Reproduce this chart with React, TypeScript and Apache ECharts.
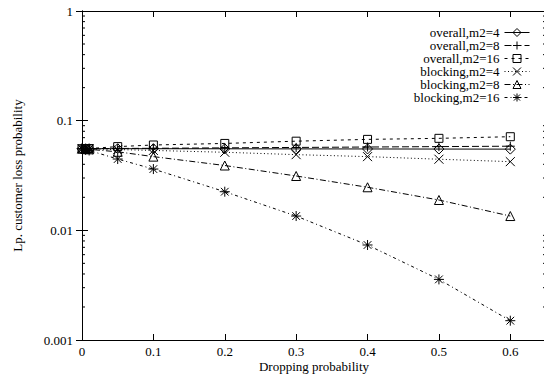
import React, { useEffect, useRef } from "react";
import * as echarts from "echarts";

const xs = [0, 0.005, 0.01, 0.05, 0.1, 0.2, 0.3, 0.4, 0.5, 0.6];
const seriesNames = [
  "overall,m2=4",
  "overall,m2=8",
  "overall,m2=16",
  "blocking,m2=4",
  "blocking,m2=8",
  "blocking,m2=16",
];
const overallM2_4 = [0.0555, 0.0555, 0.0555, 0.0555, 0.0555, 0.0554, 0.0553, 0.0552, 0.0551, 0.055];
const overallM2_8 = [0.0555, 0.0555, 0.0556, 0.0558, 0.056, 0.0565, 0.057, 0.0575, 0.058, 0.0585];
const overallM2_16 = [0.0555, 0.0556, 0.0557, 0.058, 0.06, 0.062, 0.065, 0.0675, 0.069, 0.0714];
const blockingM2_4 = [0.0555, 0.0554, 0.0553, 0.0545, 0.0535, 0.0515, 0.049, 0.047, 0.0445, 0.0423];
const blockingM2_8 = [0.0555, 0.0552, 0.0548, 0.052, 0.047, 0.039, 0.0313, 0.0247, 0.0189, 0.0135];
const blockingM2_16 = [0.0555, 0.0545, 0.0535, 0.0447, 0.0362, 0.0225, 0.0135, 0.00735, 0.00357, 0.0015];
const xMin = 0;
const xMax = 0.65;
const yMinorTicks = [
  0.002, 0.003, 0.004, 0.005, 0.006, 0.007, 0.008, 0.009,
  0.02, 0.03, 0.04, 0.05, 0.06, 0.07, 0.08, 0.09,
  0.2, 0.3, 0.4, 0.5, 0.6, 0.7, 0.8, 0.9,
];

const FONT = "'Liberation Serif', 'Times New Roman', serif";

const symbols = [
  { symbol: "path://M5,0 L10,5 L5,10 L0,5 Z", size: 10 },
  { symbol: "path://M0,5 L10,5 M5,0 L5,10", size: 9 },
  { symbol: "rect", size: 8 },
  { symbol: "path://M0,0 L10,10 M10,0 L0,10", size: 9 },
  { symbol: "triangle", size: 9 },
  { symbol: "path://M0,0 L10,10 M10,0 L0,10 M5,-1.5 L5,11.5 M-1.5,5 L11.5,5", size: 10 },
];
const dashes: any[] = [
  "solid",
  [7, 3],
  [3, 4],
  [1, 2.5],
  [6, 2.5, 1, 2.5],
  [3, 3, 1, 3],
];

export default function App() {
  const ref = useRef<HTMLDivElement>(null);
  useEffect(() => {
    if (!ref.current) return;
    const chart = echarts.init(ref.current, undefined, { renderer: "svg" });
    const values = [overallM2_4, overallM2_8, overallM2_16, blockingM2_4, blockingM2_8, blockingM2_16];
    const series: any[] = values.map((vals, i) => ({
      name: seriesNames[i],
      type: "line",
      xAxisIndex: 0,
      yAxisIndex: 0,
      data: xs.map((x, j) => [x, vals[j]]),
      symbol: symbols[i].symbol,
      symbolSize: symbols[i].size,
      showAllSymbol: true,
      clip: false,
      lineStyle: { color: "#000", width: 1, type: dashes[i] },
      itemStyle: { color: "transparent", borderColor: "#000", borderWidth: 1 },
    }));
    series.push({
      type: "custom",
      name: "minorTicks",
      xAxisIndex: 0,
      yAxisIndex: 0,
      silent: true,
      clip: false,
      data: yMinorTicks.map((v) => [xMin, v]),
      renderItem: (params: any, api: any) => {
        const v = api.value(1);
        const l = api.coord([xMin, v]);
        const r = api.coord([xMax, v]);
        const st = { stroke: "#000", lineWidth: 1 };
        return {
          type: "group",
          children: [
            { type: "line", shape: { x1: l[0], y1: l[1], x2: l[0] + 3, y2: l[1] }, style: st },
            { type: "line", shape: { x1: r[0] - 3, y1: r[1], x2: r[0], y2: r[1] }, style: st },
          ],
        };
      },
    });
    const yFmt = (v: number) => String(Number(v.toPrecision(3)));
    const baseY = {
      type: "log",
      logBase: 10,
      min: 0.001,
      max: 1,
      splitLine: { show: false },
    };
    chart.setOption({
      animation: false,
      grid: { left: 82, top: 11, bottom: 36, right: -2, containLabel: false, outerBoundsMode: "none" },
      legend: {
        orient: "vertical",
        align: "right",
        right: 14,
        top: 26,
        padding: 0,
        itemWidth: 25,
        itemHeight: 10,
        itemGap: 0,
        itemStyle: { color: "transparent", borderColor: "#000", borderWidth: 1 },
        lineStyle: { width: 1, color: "#000" },
        textStyle: { fontFamily: FONT, fontSize: 13, color: "#000", lineHeight: 12.6 },
        data: seriesNames,
      },
      xAxis: [
        {
          type: "value",
          position: "bottom",
          min: xMin,
          max: xMax,
          interval: 0.1,
          axisLine: { lineStyle: { color: "#000", width: 1 } },
          axisTick: { inside: true, length: 6, lineStyle: { color: "#000" } },
          axisLabel: {
            showMaxLabel: false,
            margin: 5,
            color: "#000",
            fontFamily: FONT,
            fontSize: 13,
            formatter: (v: number) => String(Number(v.toFixed(2))),
          },
          splitLine: { show: false },
          name: "Dropping probability",
          nameLocation: "middle",
          nameGap: 20,
          nameMoveOverlap: false,
          nameTextStyle: { fontFamily: FONT, fontSize: 13, color: "#000" },
        },
        {
          type: "value",
          position: "top",
          min: xMin,
          max: xMax,
          interval: 0.1,
          axisLine: { lineStyle: { color: "#000", width: 1 } },
          axisTick: { inside: true, length: 6, lineStyle: { color: "#000" } },
          axisLabel: { show: false },
          splitLine: { show: false },
        },
      ],
      yAxis: [
        {
          ...baseY,
          position: "left",
          axisLine: { show: true, lineStyle: { color: "#000", width: 1 } },
          axisTick: { inside: true, length: 6, lineStyle: { color: "#000" } },
          axisLabel: { margin: 9, color: "#000", fontFamily: FONT, fontSize: 13, formatter: yFmt },
          name: "Lp. customer loss probability",
          nameLocation: "middle",
          nameGap: 58,
          nameMoveOverlap: false,
          nameTextStyle: { fontFamily: FONT, fontSize: 13, color: "#000" },
        },
        {
          ...baseY,
          position: "right",
          axisLine: { show: true, lineStyle: { color: "#000", width: 1 } },
          axisTick: { inside: true, length: 6, lineStyle: { color: "#000" } },
          axisLabel: { show: false },
        },
      ],
      series,
    });
    return () => chart.dispose();
  }, []);
  return (
    <div
      ref={ref}
      style={{ position: "fixed", left: 0, top: 0, width: 544, height: 376, background: "#fff" }}
    />
  );
}
